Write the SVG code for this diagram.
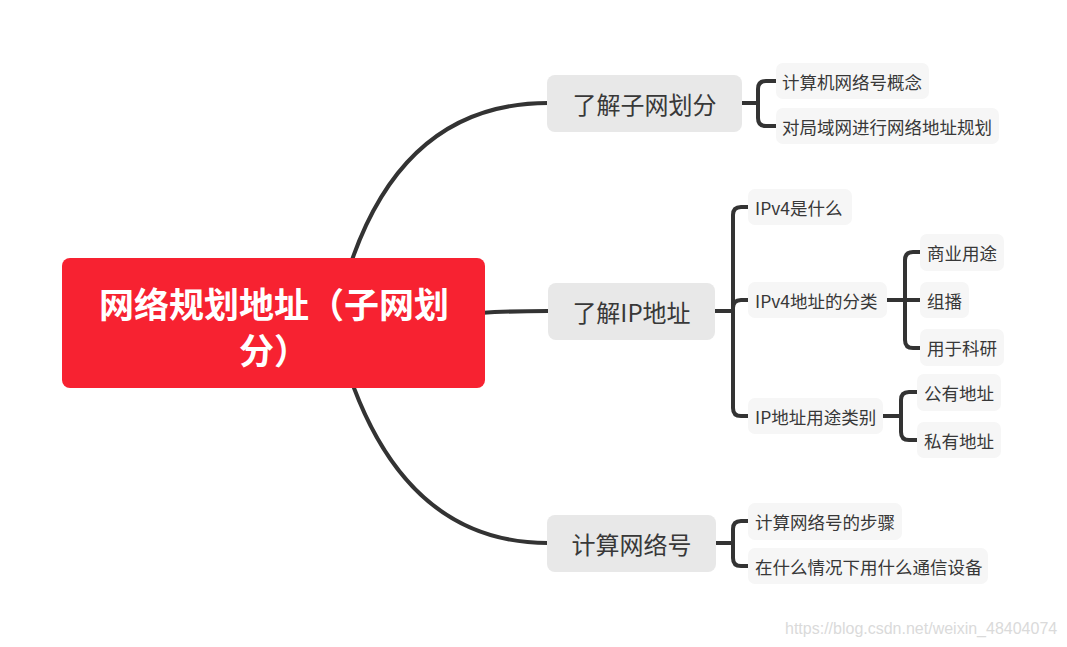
<svg xmlns="http://www.w3.org/2000/svg" width="1067" height="647" viewBox="0 0 1067 647">
<style>
.ln{fill:none;stroke:#333333;stroke-width:4;stroke-linecap:butt;stroke-linejoin:round}
.sub{fill:#e8e8e8}
.leaf{fill:#f6f6f6}
.t{font-family:"Noto Sans CJK SC","Noto Sans",sans-serif;fill:#383838;dominant-baseline:central}
.ts{font-size:24px;text-anchor:middle}
.tl{font-size:17.5px}
.root{font-family:"Noto Sans CJK SC",sans-serif;font-weight:bold;font-size:35px;fill:#ffffff;text-anchor:middle;dominant-baseline:central}
</style>
<rect width="1067" height="647" fill="#ffffff"/>
<g id="connectors">
<path class="ln" d="M340,300 Q390,103 548,103"/>
<path class="ln" d="M480,313 Q510,311 548,311"/>
<path class="ln" d="M335,326 Q388,543 548,543"/>
<path class="ln" d="M742,103 H758"/>
<path class="ln" d="M776,81 H766 Q758,81 758,89 V118 Q758,126 766,126 H776"/>
<path class="ln" d="M715,311 H733"/>
<path class="ln" d="M748,207 H741 Q733,207 733,215 V408 Q733,416 741,416 H748"/>
<path class="ln" d="M733,308 Q733,300 741,300 H748"/>
<path class="ln" d="M887,300 H920"/>
<path class="ln" d="M920,252 H913 Q905,252 905,260 V340 Q905,348 913,348 H920"/>
<path class="ln" d="M883,416 H901"/>
<path class="ln" d="M917,392 H909 Q901,392 901,400 V432 Q901,440 909,440 H917"/>
<path class="ln" d="M716,543 H733"/>
<path class="ln" d="M748,521 H741 Q733,521 733,529 V558 Q733,566 741,566 H748"/>
</g>
<g id="root">
<rect x="62" y="258" width="423" height="130" rx="8" fill="#f72231"/>
<text class="root" x="274" y="302">网络规划地址（子网划</text>
<text class="root" x="274" y="348">分）</text>
</g>
<g id="n1">
<rect class="sub" x="547" y="75" width="195" height="57" rx="8"/>
<text class="t ts" x="644.5" y="103">了解子网划分</text>
</g>
<g id="n1a">
<rect class="leaf" x="776" y="63" width="153" height="36" rx="7"/>
<text class="t tl" x="782" y="81">计算机网络号概念</text>
</g>
<g id="n1b">
<rect class="leaf" x="776" y="108" width="223" height="36" rx="7"/>
<text class="t tl" x="782" y="126">对局域网进行网络地址规划</text>
</g>
<g id="n2">
<rect class="sub" x="548" y="283" width="167" height="57" rx="8"/>
<text class="t ts" x="631.5" y="311.5">了解IP地址</text>
</g>
<g id="n2a">
<rect class="leaf" x="748" y="189" width="104" height="36" rx="7"/>
<text class="t tl" x="755" y="207">IPv4是什么</text>
</g>
<g id="n2b">
<rect class="leaf" x="748" y="282" width="139" height="36" rx="7"/>
<text class="t tl" x="755" y="300">IPv4地址的分类</text>
</g>
<g id="n2b1">
<rect class="leaf" x="920" y="234" width="84" height="37" rx="7"/>
<text class="t tl" x="927" y="252.5">商业用途</text>
</g>
<g id="n2b2">
<rect class="leaf" x="920" y="282" width="49" height="36" rx="7"/>
<text class="t tl" x="927" y="300">组播</text>
</g>
<g id="n2b3">
<rect class="leaf" x="920" y="329" width="84" height="37" rx="7"/>
<text class="t tl" x="927" y="347.5">用于科研</text>
</g>
<g id="n2c">
<rect class="leaf" x="748" y="398" width="135" height="36" rx="7"/>
<text class="t tl" x="755" y="416">IP地址用途类别</text>
</g>
<g id="n2c1">
<rect class="leaf" x="917" y="374" width="84" height="37" rx="7"/>
<text class="t tl" x="924" y="392.5">公有地址</text>
</g>
<g id="n2c2">
<rect class="leaf" x="917" y="422" width="84" height="36" rx="7"/>
<text class="t tl" x="924" y="440">私有地址</text>
</g>
<g id="n3">
<rect class="sub" x="547" y="515" width="169" height="57" rx="8"/>
<text class="t ts" x="631.5" y="543">计算网络号</text>
</g>
<g id="n3a">
<rect class="leaf" x="748" y="503" width="154" height="37" rx="7"/>
<text class="t tl" x="755" y="521.5">计算网络号的步骤</text>
</g>
<g id="n3b">
<rect class="leaf" x="748" y="548" width="240" height="36" rx="7"/>
<text class="t tl" x="755" y="566">在什么情况下用什么通信设备</text>
</g>
<text x="785" y="634" font-family="Liberation Sans, Arial, sans-serif" font-size="16" fill="#dadada">https://blog.csdn.net/weixin_48404074</text>
</svg>
